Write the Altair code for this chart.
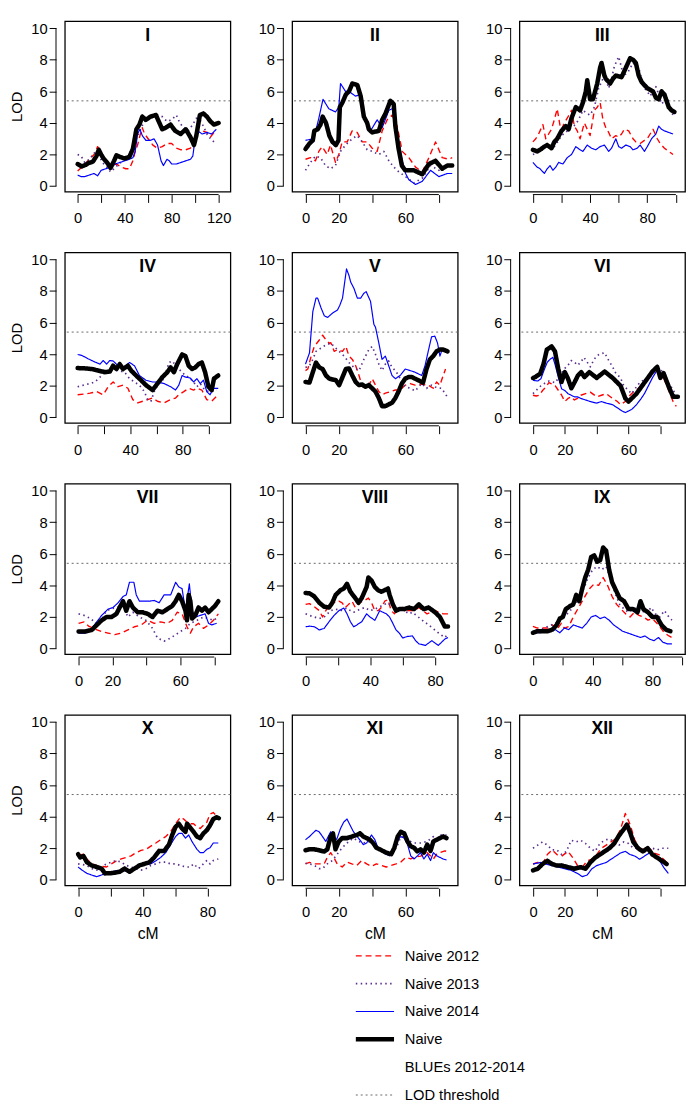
import altair as alt
import pandas as pd

FONT = "Liberation Sans"
SERIES = ["Naive 2012", "Naive 2013", "Naive 2014", "Naive BLUEs 2012-2014"]
COLORS = ["#FF0000", "#5B2D90", "#0000FF", "#000000"]
DASHES = [[6, 4], [1.5, 3.5], [1, 0], [1, 0]]
WIDTHS = [1.4, 1.7, 1.2, 4.6]
THRESHOLD = 5.4
CHROMS = ["I", "II", "III", "IV", "V", "VI", "VII", "VIII", "IX", "X", "XI", "XII"]
LEGEND_LABELS = ["Naive 2012", "Naive 2013", "Naive 2014", "Naive", "BLUEs 2012-2014", "LOD threshold"]

# ---------------- data: (cM, LOD) pairs ----------------
I_2012 = [(0,0.95),(5,1.3),(10,1.7),(14,2.0),(17,2.5),(20,2.1),(24,1.6),(28,1.3),(33,1.4),(37,1.2),(41,1.1),(44,1.1),(47,1.6),(49,2.2),(51,2.6),(53,3.2),(55,3.7),(57,3.3),(60,3.0),(64,2.6),(68,2.4),(72,2.5),(76,2.7),(80,2.7),(84,2.4),(88,2.3),(92,2.3),(96,2.4),(99,2.8),(102,3.5),(106,3.5),(110,3.4),(113,3.1),(116,3.4),(118,3.4)]
I_2013 = [(0,2.0),(3,1.9),(6,1.5),(10,1.7),(14,2.1),(18,2.0),(21,1.5),(25,1.2),(28,0.9),(31,1.1),(35,1.4),(39,1.6),(43,1.9),(47,2.5),(50,3.0),(53,3.5),(56,4.0),(60,4.3),(64,4.5),(68,4.5),(72,4.4),(76,4.1),(80,4.2),(84,4.5),(87,4.0),(90,3.7),(94,3.5),(98,3.9),(101,4.3),(104,4.2),(107,3.8),(110,3.3),(113,3.0),(116,2.8),(118,2.7)]
I_2014 = [(0,0.7),(3,0.6),(6,0.6),(10,0.7),(14,0.8),(17,0.65),(20,1.0),(24,1.1),(28,1.2),(32,1.4),(36,1.5),(40,1.6),(44,1.7),(47,1.8),(49,2.2),(51,3.3),(53,3.6),(55,3.2),(58,2.9),(62,2.9),(65,3.0),(68,2.6),(71,1.6),(73,1.3),(76,1.7),(78,1.6),(80,1.4),(84,1.4),(88,1.5),(92,1.6),(96,1.7),(98,1.9),(100,3.0),(102,3.5),(106,3.3),(110,3.4),(114,3.3),(118,3.6)]
I_BLUES = [(0,1.4),(3.6,1.25),(7,1.35),(9,1.45),(13,1.55),(16,1.9),(18,2.3),(20,2.0),(22,1.75),(25,1.5),(28,1.15),(31,1.6),(33,1.95),(36,1.85),(40,1.75),(44,1.85),(47,2.35),(50,3.6),(52.6,3.9),(55,4.4),(58,4.2),(62,4.4),(66.6,4.5),(69,4.1),(72,3.6),(75,3.7),(79,3.9),(83,3.5),(87.6,3.3),(92,3.6),(96,3.1),(99,2.6),(101,3.2),(104,4.5),(107,4.6),(110,4.4),(113,4.1),(116,3.9),(120,4.0)]

II_2012 = [(0,1.7),(3,1.8),(6,1.6),(8,2.2),(10,2.5),(13,2.0),(15,2.6),(18,1.5),(20,2.0),(22,2.8),(25,2.8),(28,3.5),(31,3.4),(34,2.8),(37,2.8),(40,2.4),(43,2.2),(46,3.5),(49,4.2),(52,4.5),(55,3.8),(58,2.2),(62,1.8),(66,1.2),(70,0.9),(74,1.8),(78,2.8),(82,1.8),(86,1.7),(88,1.8)]
II_2013 = [(0,1.0),(3,1.5),(6,1.9),(9,1.8),(12,1.3),(15,1.1),(18,1.3),(21,2.2),(24,2.6),(28,3.0),(31,3.2),(34,2.8),(37,2.3),(40,2.2),(44,2.0),(47,2.2),(50,1.6),(53,1.2),(56,0.9),(60,0.6),(65,0.2),(70,0.5),(75,1.3),(80,1.0),(85,1.3),(88,1.3)]
II_2014 = [(0,2.9),(5,3.0),(8,4.3),(10.5,5.5),(14,4.9),(18,4.7),(20,5.0),(21,6.5),(24,6.0),(26,6.0),(30,5.7),(33,5.8),(36,4.2),(39,3.5),(43,4.2),(46,3.7),(50,4.8),(52,4.9),(54,3.8),(56,2.8),(58,1.6),(60,0.8),(62,0.4),(66,0.1),(70,0.3),(75,1.0),(80,0.6),(85,0.8),(88,0.8)]
II_BLUES = [(0,2.35),(2.4,2.7),(4.4,2.9),(5.3,3.5),(7.3,3.6),(9,3.9),(10.3,4.4),(12.3,4.0),(14.3,3.2),(16.2,2.8),(18.2,2.6),(19.8,2.9),(20.6,5.0),(22.2,5.3),(24.2,5.8),(26.1,6.0),(28.1,6.5),(31.1,6.4),(33.1,5.7),(35,4.4),(37,4.0),(38,3.6),(40,3.4),(44,3.5),(46,4.2),(48,4.6),(50.9,5.4),(52.9,5.2),(53.9,3.8),(55.8,2.4),(57.8,1.3),(59.8,1.0),(65,1.0),(70,0.75),(74,1.4),(78,1.6),(82,1.1),(85,1.3),(88,1.3)]

III_2012 = [(0,2.8),(2,3.0),(4,3.3),(7,3.9),(9,3.0),(11,3.3),(13,3.6),(15,4.2),(17,4.9),(19,3.8),(20,3.6),(22,4.0),(24,4.3),(27,4.8),(29,3.8),(31,3.5),(33,3.0),(36,4.0),(38,3.6),(40,3.2),(43,4.8),(45,5.0),(47,5.3),(49,4.2),(51,3.7),(53,3.4),(55,3.0),(58,3.2),(60,3.1),(62,3.3),(64,3.6),(67,3.5),(70,3.0),(72,2.8),(75,2.7),(78,2.9),(80,3.0),(82,3.3),(84,3.6),(87,3.0),(89,2.7),(92,2.4),(95,2.2),(98,2.0)]
III_2013 = [(0,2.0),(3,2.1),(5,2.2),(8,2.4),(10,2.6),(13,2.5),(15,2.5),(18,2.9),(20,3.2),(23,3.4),(25,3.6),(28,3.8),(30,3.9),(33,4.4),(35,4.8),(38,4.6),(40,4.5),(43,5.0),(46,6.2),(48,6.6),(50,7.0),(52,6.5),(53,6.2),(55,6.8),(57,7.6),(60,8.2),(62,7.5),(63,7.0),(65,7.1),(67,7.3),(70,7.8),(72,7.6),(74,7.5),(76,6.8),(78,6.2),(80,6.0),(82,5.7),(84,6.0),(86,6.3),(88,5.8),(90,5.2),(92,5.4),(94,5.6),(96,4.8),(98,4.5)]
III_2014 = [(0,1.5),(3,1.2),(5,1.1),(8,0.8),(10,1.1),(12,1.3),(14,1.0),(16,1.2),(18,1.5),(21,1.4),(24,1.8),(27,2.0),(30,2.5),(33,2.3),(35,2.2),(38,2.6),(41,2.4),(44,2.3),(47,2.5),(50,2.6),(53,2.2),(55,2.4),(58,3.0),(60,2.5),(62,2.4),(65,2.6),(68,2.5),(70,2.3),(73,2.4),(75,2.6),(78,2.2),(80,2.5),(83,3.0),(86,3.3),(88,3.8),(90,3.6),(92,3.5),(95,3.4),(98,3.3)]
III_BLUES = [(0,2.3),(3,2.2),(5,2.3),(8,2.5),(10,2.6),(13,2.4),(15,2.8),(17,3.0),(20,3.5),(23,3.8),(25,3.6),(27,4.3),(30,5.0),(33,4.8),(35,5.3),(37,6.0),(38,6.7),(40,5.5),(42,5.5),(45,6.5),(47,7.5),(48,7.8),(50,7.0),(51,6.8),(54,6.5),(56,6.8),(58,7.0),(62,6.9),(65,7.5),(68,8.1),(70,8.0),(72,7.8),(74,7.0),(76,6.6),(80,6.2),(84,6.0),(86,5.6),(88,5.5),(90,6.0),(92,5.8),(95,5.0),(97,4.8),(99,4.7)]

IV_2012 = [(0,1.43),(4.5,1.47),(9.5,1.53),(14.5,1.63),(19.5,1.43),(23.25,1.94),(27,2.24),(30.75,1.94),(34.5,2.04),(38.25,1.84),(42,1.12),(45.75,0.92),(49.5,1.02),(53.25,1.12),(57,1.22),(60.75,1.02),(65.75,0.92),(70.75,1.12),(74.5,1.22),(77,1.43),(80.75,1.63),(84.5,1.84),(88.25,1.73),(90.75,1.84),(94.5,1.73),(98.25,1.12),(102,1.02),(105.75,1.33)]
IV_2013 = [(0,1.94),(4.5,2.04),(9.5,2.14),(13.25,2.24),(17,2.55),(20.75,2.86),(25.75,3.06),(30.75,2.96),(35.75,2.86),(39.5,2.45),(43.25,2.24),(47,2.04),(50.75,1.63),(53.25,1.12),(55.75,1.02),(58.25,1.63),(60.75,2.04),(65.75,2.45),(69.5,3.47),(72,3.57),(75.75,3.16),(79.5,2.86),(82,2.65),(84.5,2.55),(88.25,2.24),(90.75,1.94),(93.25,2.14),(95.75,1.84),(99.5,1.63),(102,1.63),(105.75,1.73)]
IV_2014 = [(0,3.98),(3.25,3.92),(8.25,3.7),(13.25,3.5),(17,3.37),(19.5,3.6),(22,3.37),(24.5,3.6),(27,3.57),(29.5,3.37),(32,3.22),(35.75,3.22),(39.5,3.47),(43.25,3.27),(47,2.65),(52,2.35),(57,2.24),(60.75,2.24),(65.75,2.14),(70.75,1.94),(74.5,1.73),(77,2.04),(79.5,2.65),(82,2.55),(85.75,2.49),(88.25,2.24),(90.75,2.45),(93.25,2.14),(95.75,2.35),(98.25,1.63),(100.75,1.43),(103.25,1.84),(107,1.84)]
IV_BLUES = [(0,3.12),(5.75,3.1),(10.75,3.06),(15.75,2.96),(20.75,2.86),(24.5,2.9),(27,3.27),(29.5,3.06),(32,3.37),(34.5,3.06),(38.25,3.27),(40.75,2.96),(44.5,2.65),(48.25,2.35),(52,2.04),(57,1.73),(60.75,2.14),(64.5,2.55),(68.25,2.86),(70.75,3.16),(73.25,2.86),(75.75,3.37),(79.5,3.98),(82,3.88),(84.5,3.27),(87,3.06),(89.5,3.16),(92,3.37),(94.5,3.47),(97,2.86),(99.5,1.94),(102,1.73),(103.75,2.45),(107,2.65)]

V_2012 = [(0,2.96),(1.4,3.06),(3.4,3.88),(5.3,4.49),(8.3,4.9),(10.3,5.2),(12.3,4.9),(14.3,4.69),(15.2,4.73),(17.2,4.18),(19.2,4.29),(22.2,4.18),(24.2,4.49),(26.1,3.88),(28.1,3.67),(30.1,3.27),(32.1,2.65),(34.1,1.94),(36,1.84),(38,2.04),(40,2.45),(42,2.04),(44,1.63),(45.9,1.43),(47.9,1.53),(50.9,1.63),(53.9,1.73),(56.8,1.73),(59.8,2.04),(62.8,2.14),(65.7,2.04),(69.7,2.1),(73.6,2.04),(76.6,1.84),(78.6,2.24),(80.6,2.04),(82.6,2.65),(84,3.06)]
V_2013 = [(0,3.16),(2.4,3.27),(4.4,3.67),(6.3,4.18),(9.3,4.39),(12.3,4.59),(15.2,4.7),(17.2,4.49),(20.2,4.18),(23.2,3.88),(26.1,3.47),(29.1,3.16),(32.1,2.96),(35,3.67),(38,4.29),(40,4.49),(42,3.98),(44,3.37),(45.9,2.96),(47.9,3.37),(49.9,3.57),(51.9,3.16),(53.9,2.96),(55.8,2.65),(57.8,2.24),(59.8,1.94),(62.8,1.84),(65.7,1.67),(69.7,2.14),(72.6,1.84),(75.6,2.04),(78.6,1.88),(81.6,1.84),(85.2,1.27)]
V_2014 = [(0,3.37),(2.4,4.08),(4.4,6.7),(6.3,7.55),(7.3,7.55),(9.3,6.94),(11.3,6.43),(13.3,6.33),(16.2,6.6),(19.2,6.8),(20.6,7.1),(22.2,7.55),(24.6,9.4),(26.1,8.98),(27.1,8.57),(29.1,8.16),(31.1,7.55),(33.1,7.55),(35,7.86),(36.4,7.96),(39,7.35),(41,5.9),(42,5.7),(44,4.7),(45.9,3.67),(47.9,3.88),(49.9,3.27),(51.9,2.65),(53.9,2.45),(56.8,2.65),(59.8,3.06),(62.8,2.96),(65.7,2.86),(69.7,2.65),(71.7,3.27),(73.6,4.18),(75.6,5.1),(77.6,5.14),(79.2,4.7),(80.6,3.88),(81.6,4.18),(83.6,4.29),(85.2,4.18)]
V_BLUES = [(0,2.24),(2.4,2.2),(4.4,2.86),(6.3,3.47),(8.3,3.16),(10.3,3.06),(12.3,2.65),(14.3,2.45),(16.2,2.4),(18.2,2.35),(20.2,2.04),(22.2,2.55),(24.2,3.06),(26.1,3.1),(28.1,2.65),(30.1,2.24),(32.1,2.04),(34.1,2.08),(36,1.94),(38,2.04),(40,1.84),(42,1.63),(44,1.22),(45.9,0.71),(47.9,0.71),(49.9,0.82),(51.9,0.92),(53.9,1.22),(55.8,1.63),(57.8,2.14),(59.8,2.45),(61.8,2.55),(63.8,2.55),(65.7,2.45),(70.5,2.2),(72.6,3.06),(74.6,3.67),(76.6,3.88),(78.6,4.18),(80.6,4.29),(82.6,4.29),(85.2,4.18)]

VI_2012 = [(0,1.4),(2,1.35),(4,1.4),(6,1.7),(8,1.9),(10,2.2),(12,2.1),(14,2.0),(16,1.7),(18,1.4),(20,1.0),(22,1.2),(24,1.3),(26,1.1),(28,1.2),(30,1.4),(33,1.5),(36,1.6),(40,1.3),(43,1.4),(46,1.5),(50,1.2),(53,1.0),(55,0.8),(58,1.0),(60,1.3),(63,1.6),(66,1.8),(70,2.3),(73,2.6),(75,2.8),(78,3.0),(80,2.8),(82,2.5),(84,2.0),(86,1.5),(88,1.0),(90,0.7)]
VI_2013 = [(0,1.5),(3,1.8),(5,2.0),(8,2.2),(10,2.3),(12,2.25),(14,2.2),(16,2.5),(18,2.8),(20,3.1),(22,3.3),(24,3.6),(26,3.5),(28,3.3),(30,3.5),(32,3.8),(34,3.5),(36,3.2),(38,3.6),(40,3.9),(42,4.0),(45,4.1),(47,3.7),(50,3.2),(52,2.8),(55,2.5),(57,2.0),(59,1.8),(62,1.5),(64,1.8),(67,2.2),(70,2.4),(72,2.5),(74,2.7),(76,2.9),(78,3.0),(80,3.1),(82,2.7),(84,2.4),(86,2.0),(88,1.8),(90,1.2)]
VI_2014 = [(0,2.35),(3,2.3),(5,2.45),(7,3.0),(9,3.5),(11,3.7),(12.5,3.8),(14,3.3),(16,2.5),(18,1.8),(20,1.7),(22,1.5),(24,1.4),(26,1.3),(28,1.3),(30,1.2),(33,1.1),(36,1.0),(40,0.9),(43,1.0),(46,0.9),(50,0.8),(53,0.6),(56,0.4),(58,0.3),(60,0.4),(62,0.5),(65,0.8),(68,1.2),(70,1.5),(73,2.1),(75,2.5),(78,3.0),(80,2.8),(82,2.6),(84,2.1),(86,1.8),(88,1.5),(90,1.3)]
VI_BLUES = [(0,2.49),(1.4,2.55),(4.5,2.76),(6.6,3.37),(8.7,4.29),(11.7,4.49),(13.8,4.18),(15.9,3.06),(17.9,2.24),(20,2.86),(22,2.45),(24.1,1.84),(26.2,2.24),(28.2,2.65),(30.3,2.86),(32.3,2.55),(35.4,2.86),(40,2.5),(45,2.9),(50,2.5),(55,2.0),(58,1.2),(60,1.0),(65,1.5),(70,2.2),(75,2.9),(78,3.2),(80,2.5),(82,2.8),(85,2.0),(88,1.3),(91,1.3)]

VII_2012 = [(0,1.6),(3.3,1.69),(6.2,1.4),(10.1,1.22),(13.6,1.08),(17.4,0.98),(21.3,0.88),(25.2,0.98),(29.1,1.18),(32.9,1.38),(36.8,1.49),(40.7,1.79),(44.6,1.6),(48.4,1.69),(52.3,1.6),(55.2,1.79),(58.1,2.3),(61,2.2),(63.9,1.38),(65.9,0.98),(67.8,1.38),(70.7,1.6),(73.6,1.28),(76.6,1.49),(79.5,1.79),(82.4,2.2)]
VII_2013 = [(0,2.2),(3.3,2.1),(7.2,1.9),(10.1,1.6),(13,1.69),(15.9,2.3),(18.4,2.5),(22.3,2.6),(26.2,2.7),(29.1,2.0),(32,2.3),(35.9,2.0),(39.7,1.79),(43.6,1.28),(46.5,0.67),(50.4,0.47),(54.3,0.67),(57.2,0.88),(60.1,1.08),(63,1.28),(65.9,1.6),(69.8,1.79),(73.6,2.0),(76.6,1.9),(79.5,1.79),(82.4,2.0)]
VII_2014 = [(0,0.98),(3.9,0.98),(7.8,1.28),(10.7,1.69),(13.6,2.1),(17.4,2.5),(20.3,2.6),(23.3,2.9),(26.2,3.3),(28.1,3.4),(30,4.2),(32.6,4.2),(34,3.4),(35.9,3.0),(38.8,3.0),(41.7,3.0),(44.6,3.05),(47.5,2.9),(50.4,3.4),(54.3,3.4),(57.2,4.2),(59.1,3.9),(61,3.8),(63,2.4),(65.3,4.1),(66.9,2.4),(68.8,2.0),(71.7,2.1),(74.6,2.2),(76.6,1.6),(78.5,1.5),(81.4,1.6)]
VII_BLUES = [(0,1.08),(3.9,1.08),(7.8,1.18),(10.7,1.49),(13.6,1.79),(16.5,2.0),(19.4,2.0),(22.3,2.2),(24.2,2.6),(26.2,3.0),(28.1,2.4),(30,3.0),(32,2.6),(34.9,2.3),(37.8,2.3),(40.7,2.2),(43.6,2.0),(46.5,2.4),(49.4,2.3),(52.3,2.5),(55.2,2.7),(57.2,3.0),(59.1,3.4),(61,3.0),(63,2.4),(63.9,1.79),(64.9,3.4),(65.9,3.0),(66.9,1.9),(68.8,2.1),(70.7,2.6),(72.7,2.4),(74.6,2.6),(76.6,2.3),(78.5,2.5),(80.4,2.7),(82.4,3.0)]

VIII_2012 = [(0,2.8),(2.4,2.85),(5.4,2.65),(8.5,2.4),(10.5,2.0),(12.5,2.4),(14.5,2.7),(16.5,3.0),(18.6,2.9),(20.6,3.0),(22.6,2.9),(24.6,2.6),(26.6,2.8),(28.7,3.0),(30.7,2.6),(32.7,2.9),(35.7,3.0),(38.8,3.2),(40.8,2.9),(42.8,2.4),(44.8,2.4),(46.8,2.6),(48.9,3.0),(50.9,3.1),(52.9,2.4),(54.9,2.2),(56.9,2.5),(60,2.6),(63,2.4),(67,2.4),(70,2.6),(75,2.2),(80,2.4),(85,2.2),(88,2.2)]
VIII_2013 = [(0,2.2),(2.4,2.1),(5.4,2.0),(8.5,1.9),(11.5,2.0),(13.5,2.2),(15.5,2.4),(18.6,2.5),(21.6,2.4),(23.6,2.5),(25.6,2.57),(27.7,2.4),(29.7,2.3),(31.7,2.4),(33.7,2.5),(36.7,2.6),(39.8,2.4),(42.8,2.5),(44.8,2.6),(46.8,2.7),(48.9,2.8),(50.9,2.9),(52.9,2.7),(54.9,2.6),(57.9,2.5),(61,2.4),(64,2.2),(66,2.3),(72,1.8),(76,1.5),(82,1.0),(86,0.7),(88,0.9)]
VIII_2014 = [(0,1.38),(2.4,1.42),(5.4,1.38),(8.5,1.18),(11.5,1.28),(14.5,1.7),(17.6,2.1),(20.6,2.4),(23.6,2.57),(25.6,2.2),(27.7,1.7),(29.7,1.38),(31.7,1.5),(34.7,1.7),(37.7,2.2),(39.8,2.0),(42.8,1.79),(45.8,2.4),(47.8,2.3),(49.9,2.2),(51.9,2.0),(53.9,1.6),(55.9,1.18),(57.9,0.98),(60,0.67),(63,0.77),(66,0.8),(68,0.5),(70,0.3),(74,0.2),(78,0.5),(82,0.2),(86,0.6),(88,0.7)]
VIII_BLUES = [(0,3.52),(2.4,3.5),(5.4,3.3),(8.5,2.9),(11.5,2.65),(14.5,2.6),(16.5,2.9),(18.6,3.4),(21.6,3.7),(23.6,3.8),(25.6,4.1),(27.7,3.6),(30.7,3.2),(32.7,2.9),(34.7,3.2),(37.7,3.9),(38.8,4.5),(40.8,4.3),(42.8,3.9),(44.8,3.7),(46.8,3.6),(48.9,3.7),(50.9,3.8),(51.9,3.4),(53.9,2.8),(55.9,2.4),(58,2.5),(61,2.5),(64,2.6),(67,2.5),(70,2.8),(73,2.5),(76,2.6),(80,2.3),(83,2.0),(86,1.4),(88,1.4)]

IX_2012 = [(0,1.4),(3,1.3),(6,1.3),(10,1.3),(13,1.5),(16,1.2),(19,1.6),(21,1.3),(24,1.4),(27,2.0),(30,2.5),(33,3.0),(36,3.5),(38,3.8),(41,4.1),(44,4.0),(47,4.5),(50,4.0),(53,3.3),(56,2.8),(59,2.5),(62,2.2),(65,2.0),(68,2.3),(71,2.1),(74,2.0),(77,1.8),(80,1.9),(84,1.5),(88,1.0),(91,0.8),(93,0.7)]
IX_2013 = [(0,1.0),(5,1.2),(10,1.4),(15,1.6),(18,1.8),(21,2.0),(25,2.4),(28,2.8),(31,3.2),(34,3.8),(37,4.5),(40,5.0),(43,5.2),(46,5.0),(49,5.2),(52,4.4),(55,3.5),(58,2.8),(61,2.5),(64,2.3),(67,2.5),(70,2.6),(73,2.4),(76,2.2),(79,2.6),(82,2.2),(85,2.0),(88,2.4),(91,2.0),(93,1.8)]
IX_2014 = [(0,1.0),(5,1.0),(10,1.1),(15,1.2),(18,1.0),(21,1.3),(24,1.2),(27,1.5),(30,1.4),(33,1.3),(36,1.6),(39,2.0),(42,2.1),(45,1.9),(48,2.0),(51,1.8),(54,1.5),(57,1.3),(60,1.1),(63,1.0),(66,0.9),(69,0.8),(72,0.7),(75,0.8),(78,0.6),(81,0.5),(84,0.7),(87,0.4),(90,0.3),(93,0.3)]
IX_BLUES = [(0,1.0),(3,1.1),(6,1.1),(10,1.1),(13,1.2),(16,1.5),(18,1.9),(20,2.0),(22,2.5),(25,2.7),(27,2.8),(29,3.4),(31,3.0),(33,3.8),(35,4.5),(37,5.0),(39,5.8),(41,5.9),(43,5.5),(45,5.6),(47,6.4),(49,6.2),(51,5.0),(53,4.2),(55,3.8),(58,3.2),(61,3.0),(64,2.5),(67,2.5),(70,2.3),(72,3.0),(74,2.5),(77,2.3),(80,2.0),(83,2.0),(86,1.5),(89,1.2),(92,1.1)]

X_2012 = [(0,1.55),(3.35,1.62),(5.4,1.32),(8.4,1.01),(11.5,0.91),(14.5,0.85),(17.6,0.81),(20.6,1.01),(23.7,1.2),(26.7,1.32),(29.8,1.42),(32.8,1.52),(35.9,1.72),(38.9,1.86),(42,1.93),(45,2.13),(48.1,2.33),(51.1,2.54),(54.2,2.74),(57.2,3.04),(60.3,3.55),(63.3,3.96),(65.3,3.85),(67.4,3.65),(69.4,3.55),(71.4,3.55),(73.5,3.35),(75.5,3.25),(77.5,3.45),(79.6,3.65),(81.6,4.16),(83.6,4.26),(85.7,4.05)]
X_2013 = [(0,1.01),(2.5,0.97),(5.4,0.91),(8.4,0.71),(11.5,0.61),(14.5,0.81),(17.6,1.01),(20.6,1.12),(23.7,1.22),(26.7,1.12),(29.8,0.91),(32.8,0.81),(35.9,0.71),(38.9,0.61),(42,0.71),(45,0.91),(48.1,1.01),(51.1,1.12),(54.2,1.12),(57.2,1.01),(60.3,1.01),(63.3,0.91),(66.4,0.81),(69.4,0.81),(71.4,1.01),(74.5,0.71),(77.5,1.01),(79.6,1.22),(81.6,1.01),(83.6,1.22),(86.7,1.32)]
X_2014 = [(0,0.81),(2.5,0.61),(5.4,0.41),(8.4,0.3),(11.5,0.2),(14.5,0.3),(17.6,0.45),(20.6,0.51),(23.7,0.57),(26.7,0.61),(29.8,0.57),(32.8,0.61),(35.9,0.81),(38.9,0.91),(42,0.97),(45,1.01),(48.1,1.2),(51.1,1.42),(54.2,1.72),(57.2,2.23),(60.3,2.74),(62.3,2.94),(64.3,2.94),(66.4,2.64),(68.4,2.84),(70.4,2.43),(73.5,1.93),(75.5,1.72),(77.5,1.72),(79.6,1.93),(81.6,2.03),(83.6,2.33),(86.7,2.33)]
X_BLUES = [(0,1.62),(1.3,1.42),(3.35,1.5),(5.4,1.12),(8.4,0.91),(11.5,0.81),(14.5,0.71),(16.6,0.41),(19.6,0.41),(22.7,0.45),(25.7,0.51),(28.8,0.71),(31.8,0.51),(34.9,0.71),(37.9,0.91),(41,1.01),(44,1.1),(47.1,1.42),(50.1,1.83),(53.2,1.83),(56.2,2.23),(58.2,2.84),(60.3,3.35),(62.3,3.55),(64.3,3.25),(66.4,3.04),(67.4,3.55),(69.4,3.3),(71.4,3.04),(73.5,2.74),(75.5,2.64),(77.5,2.94),(79.6,3.14),(81.6,3.45),(83.6,3.85),(85.7,3.96),(87.1,3.9)]

XI_2012 = [(0,1.01),(2.4,1.1),(5.3,1.01),(8.2,1.01),(11.2,1.01),(13.1,1.42),(15.1,1.72),(17,1.42),(19,1.01),(22,0.81),(24.9,1.12),(27.8,1.01),(30.8,0.91),(33.7,1.22),(36.7,1.01),(39.6,0.85),(42.5,1.01),(45.5,0.91),(48.4,0.81),(51.4,0.91),(54.3,1.01),(57.2,1.12),(60.2,1.42),(63.1,1.32),(65.1,1.42),(69,1.5),(73,1.72),(76.7,1.32),(78.7,1.62),(80.6,1.72),(83.6,1.83),(84.6,1.8)]
XI_2013 = [(0,1.05),(2.4,1.01),(5.3,0.91),(8.2,0.71),(10.2,0.71),(13.1,1.01),(16.1,1.22),(19,1.62),(22,2.03),(25.9,2.43),(28.8,2.64),(31.8,2.43),(34.7,2.33),(37.6,2.43),(40.6,2.33),(43.5,2.03),(46.4,1.72),(49.4,1.62),(52.3,1.62),(55.3,2.23),(57.2,2.74),(60.2,2.64),(63.1,2.43),(65.1,2.33),(69,2.33),(73,2.43),(76.7,2.74),(78.7,2.43),(80.6,2.84),(84.6,2.84)]
XI_2014 = [(0,2.54),(2.4,2.74),(4.3,2.94),(6.3,3.14),(8.2,3.04),(10.2,2.74),(12.2,2.43),(14.1,2.84),(15.1,3.04),(17,2.33),(19,2.64),(21,3.25),(22.9,3.65),(24.9,3.85),(26.8,3.45),(28.8,3.04),(31.8,2.64),(34.7,2.23),(36.7,2.33),(39.6,2.84),(41.6,2.54),(43.5,2.03),(45.5,1.83),(47.4,1.67),(50.4,1.52),(53.3,1.93),(55.3,2.54),(57.2,2.74),(59.2,2.64),(61.2,2.23),(63.1,1.52),(65.1,1.32),(67,1.5),(69,1.72),(71,1.32),(73,1.62),(75,1.22),(76.7,1.72),(78.7,1.52),(80.6,1.42),(82.6,1.32),(84.6,1.25)]
XI_BLUES = [(0,1.87),(2.4,1.93),(5.3,1.93),(8.2,1.87),(11.2,1.79),(13.1,1.93),(15.1,2.74),(16.5,2.94),(18,1.93),(20,2.43),(22,2.64),(24.9,2.64),(27.8,2.74),(30.8,2.84),(32.7,2.94),(34.7,2.74),(36.7,2.64),(38.6,2.54),(40.6,2.33),(42.5,2.03),(44.5,1.93),(46.4,1.83),(48.4,1.72),(51.4,1.62),(53.3,2.03),(55.3,2.74),(57.2,3.04),(59.2,2.94),(61.2,2.43),(63.1,2.13),(65.1,2.03),(67,1.8),(69,1.93),(71,1.72),(73,2.23),(75,1.83),(76.7,2.43),(78.7,2.54),(80.6,2.64),(82.6,2.74),(84.6,2.64)]

XII_2012 = [(0,1.0),(3,1.1),(6,1.0),(9,1.6),(12,1.9),(15,1.6),(18,1.5),(22,1.8),(25,1.4),(28,0.9),(31,0.8),(34,1.2),(37,1.3),(40,1.6),(43,2.0),(46,2.2),(49,2.4),(52,2.6),(55,3.2),(58,4.2),(61,3.5),(64,2.5),(67,2.0),(70,1.9),(73,2.0),(76,1.7),(79,1.6),(82,1.3),(85,1.0)]
XII_2013 = [(0,2.0),(3,2.2),(6,2.4),(9,2.2),(12,1.9),(15,1.9),(18,1.6),(21,1.8),(24,2.5),(27,2.4),(30,2.5),(33,2.3),(36,2.0),(39,1.8),(42,2.3),(45,2.5),(48,2.6),(51,2.4),(54,2.2),(57,2.4),(60,2.3),(63,2.0),(66,2.0),(69,1.8),(72,1.8),(75,2.0),(78,1.9),(81,2.0),(85,2.0)]
XII_2014 = [(0,1.0),(5,1.1),(8,1.0),(12,0.9),(16,0.8),(20,0.7),(24,0.6),(28,0.4),(31,0.2),(34,0.3),(37,0.7),(40,0.9),(43,1.0),(46,1.1),(49,1.3),(52,1.5),(55,1.7),(58,1.8),(61,1.6),(64,1.5),(67,1.3),(70,1.5),(73,1.7),(76,1.5),(79,1.3),(82,0.8),(85,0.4)]
XII_BLUES = [(0,0.6),(3,0.7),(6,1.0),(9,1.2),(12,1.0),(15,0.9),(18,0.9),(22,0.8),(26,0.7),(30,0.8),(33,0.7),(36,1.1),(39,1.4),(42,1.6),(45,1.8),(48,2.0),(51,2.3),(54,2.8),(57,3.2),(59,3.5),(61,3.0),(63,2.4),(66,2.0),(69,1.8),(72,2.0),(75,1.6),(78,1.4),(81,1.2),(84,1.0)]

DATA = {
    "I": [I_2012, I_2013, I_2014, I_BLUES], "II": [II_2012, II_2013, II_2014, II_BLUES],
    "III": [III_2012, III_2013, III_2014, III_BLUES], "IV": [IV_2012, IV_2013, IV_2014, IV_BLUES],
    "V": [V_2012, V_2013, V_2014, V_BLUES], "VI": [VI_2012, VI_2013, VI_2014, VI_BLUES],
    "VII": [VII_2012, VII_2013, VII_2014, VII_BLUES], "VIII": [VIII_2012, VIII_2013, VIII_2014, VIII_BLUES],
    "IX": [IX_2012, IX_2013, IX_2014, IX_BLUES], "X": [X_2012, X_2013, X_2014, X_BLUES],
    "XI": [XI_2012, XI_2013, XI_2014, XI_BLUES], "XII": [XII_2012, XII_2013, XII_2014, XII_BLUES],
}

# axis set-up per chromosome (domain, tick positions, labelled ticks)
X_DOMAIN = {"I": [-10.9, 130], "II": [-8, 91.3], "III": [-9.4, 106.4], "IV": [-9.75, 116.25],
            "V": [-8, 91.3], "VI": [-8.5, 95.5], "VII": [-8.1, 89.5], "VIII": [-8.3, 94],
            "IX": [-9, 101.8], "X": [-8.2, 94.2], "XI": [-8, 91.3], "XII": [-8.5, 95.5]}
X_TICKS = {"I": [0, 20, 40, 60, 80, 100, 120], "III": [0, 20, 40, 60, 80, 100], "IV": [0, 20, 40, 60, 80, 100],
           "IX": [0, 20, 40, 60, 80, 100]}
X_LABELS = {"I": [0, 40, 80, 120], "II": [0, 20, 60], "III": [0, 40, 80], "IV": [0, 40, 80],
            "V": [0, 20, 60], "VI": [0, 20, 60], "VII": [0, 20, 60], "VIII": [0, 40, 80],
            "IX": [0, 40, 80], "X": [0, 40, 80], "XI": [0, 20, 60], "XII": [0, 20, 60]}
Y_TICKS = [0, 2, 4, 6, 8, 10]
Y_DOMAIN = [-0.35, 10.45]

W, H = 169, 174
YOFF, XOFF = 9, 3


def panel(name, row, col):
    rows = []
    for s, pts in zip(SERIES, DATA[name]):
        for cm, lod in pts:
            rows.append({"series": s, "cM": cm, "LOD": lod})
    df = pd.DataFrame(rows)
    ticks = X_TICKS.get(name, [0, 20, 40, 60, 80])
    labs = X_LABELS[name]
    lab_expr = "indexof(" + str(labs) + ", datum.value) >= 0 ? datum.label : ''"
    xax = alt.Axis(values=ticks, labelExpr=lab_expr, title="cM" if row == 3 else None,
                   domain=False, grid=False, tickSize=8, labelPadding=9, offset=XOFF,
                   labelFontSize=15, labelFont=FONT, labelColor="black", tickColor="black",
                   titleFontSize=16, titleFont=FONT, titleFontWeight="normal", titleColor="black",
                   titlePadding=4, labelFlush=False, labelOverlap=False,
                   minExtent=34, maxExtent=34)
    yax = alt.Axis(values=Y_TICKS, title="LOD" if col == 0 else None, domain=False, grid=False,
                   tickSize=7, labelPadding=2, offset=YOFF, labelFontSize=15, labelFont=FONT,
                   labelColor="black", tickColor="black", titleFontSize=15, titleFont=FONT,
                   titleFontWeight="normal", titleColor="black", titlePadding=5,
                   minExtent=27, maxExtent=27)
    X = alt.X("cM:Q", scale=alt.Scale(domain=X_DOMAIN[name], nice=False, zero=False), axis=xax)
    Y = alt.Y("LOD:Q", scale=alt.Scale(domain=Y_DOMAIN, nice=False, zero=False), axis=yax)

    layers = []
    for s, c, d, w in zip(SERIES, COLORS, DASHES, WIDTHS):
        layers.append(
            alt.Chart(df).transform_filter(alt.datum.series == s)
            .mark_line(color=c, strokeDash=d, strokeWidth=w, strokeCap="round" if w > 3 else "butt",
                       strokeJoin="round")
            .encode(x=X, y=Y)
        )
    thr = alt.Chart(pd.DataFrame({"LOD": [THRESHOLD]})).mark_rule(
        color="#666666", strokeDash=[2, 3], strokeWidth=1).encode(y=Y)
    yline = alt.Chart(pd.DataFrame({"LOD": [Y_TICKS[0]], "LOD2": [Y_TICKS[-1]]})).mark_rule(
        color="black", strokeWidth=1).encode(x=alt.value(-YOFF), y=Y, y2="LOD2:Q")
    xline = alt.Chart(pd.DataFrame({"cM": [ticks[0]], "cM2": [ticks[-1]]})).mark_rule(
        color="black", strokeWidth=1).encode(x=X, x2="cM2:Q", y=alt.value(H + XOFF))
    title = alt.Chart(pd.DataFrame({"name": [name]})).mark_text(
        font=FONT, fontSize=18, fontWeight="bold", color="black", baseline="middle"
    ).encode(text="name:N", x=alt.value(W / 2), y=alt.value(15))
    return alt.layer(thr, *layers, yline, xline, title).properties(width=W, height=H)


grid_rows = []
for r in range(4):
    grid_rows.append(alt.hconcat(*[panel(CHROMS[r * 3 + c], r, c) for c in range(3)], spacing=24))
grid = alt.vconcat(*grid_rows, spacing=23)

# -------- legend --------
leg_df = pd.DataFrame({"label": LEGEND_LABELS, "idx": list(range(len(LEGEND_LABELS)))})
LEG_Y = alt.Y("idx:Q", scale=alt.Scale(domain=[0, 5], range=[8, 8 + 5 * 28.4]), axis=None)
LX1, LX2, TX = 297, 336, 347
leg_text = alt.Chart(leg_df).mark_text(font=FONT, fontSize=15, align="left", baseline="middle",
                                       color="black").encode(x=alt.value(TX), y=LEG_Y, text="label:N")
leg_lines = []
for k, (c, d, w) in enumerate(zip(COLORS, DASHES, WIDTHS)):
    leg_lines.append(
        alt.Chart(leg_df).transform_filter(alt.datum.idx == k)
        .mark_rule(color=c, strokeDash=d, strokeWidth=w)
        .encode(x=alt.value(LX1), x2=alt.value(LX2), y=LEG_Y)
    )
leg_lines.append(
    alt.Chart(leg_df).transform_filter(alt.datum.idx == 5)
    .mark_rule(color="#666666", strokeDash=[2, 3], strokeWidth=1)
    .encode(x=alt.value(LX1), x2=alt.value(LX2), y=LEG_Y)
)
legend = alt.layer(*leg_lines, leg_text).properties(
    width=560, height=152, view=alt.ViewBackground(stroke="transparent"))

chart = alt.vconcat(grid, legend, spacing=5).properties(
    padding={"left": 1, "top": 1, "right": 0, "bottom": 0}
).configure_view(stroke="black", strokeWidth=1.3)

chart.save("out.html", embed_options={"renderer": "svg", "actions": False})
